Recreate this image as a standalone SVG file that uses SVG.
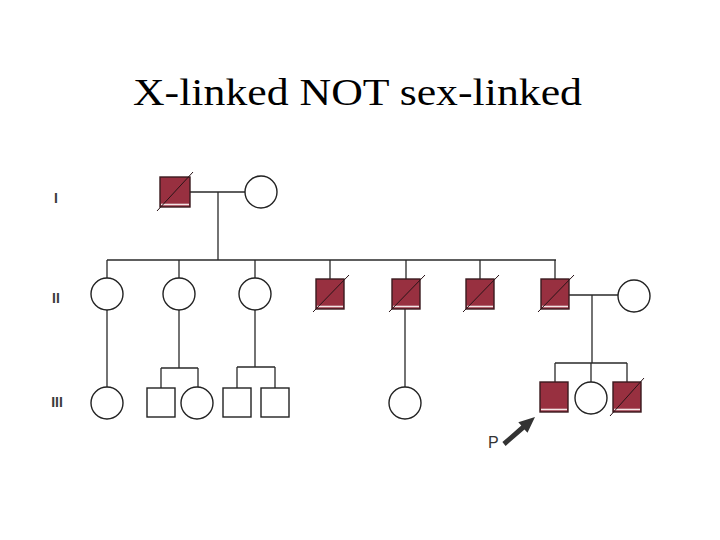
<svg xmlns="http://www.w3.org/2000/svg" width="720" height="540" viewBox="0 0 720 540">
<style>
.title{font-family:"Liberation Serif","Times New Roman",serif;font-size:37px;fill:#000}
.gen{font-family:"Liberation Sans",Arial,sans-serif;font-size:14px;font-weight:bold;fill:#3a3a3a;text-anchor:middle}
.lbl{font-family:"Liberation Sans",Arial,sans-serif;font-size:16px;fill:#333}
.ln{stroke:#2a2a2a;stroke-width:1.3;fill:none}
.f{fill:#fff;stroke:#222;stroke-width:1.4}
.m{fill:#fff;stroke:#222;stroke-width:1.4}
.a{fill:#983040;stroke:#3a1a1e;stroke-width:1.4}
.band{stroke:#f3e6e6;stroke-width:1.6}
.sl{stroke:#2a1418;stroke-width:1}
</style>
<rect width="720" height="540" fill="#fff"/>
<text class="title" x="133" y="105" textLength="449" lengthAdjust="spacingAndGlyphs">X-linked NOT sex-linked</text>
<g id="gen-labels">
<text class="gen" x="56" y="203">I</text>
<text class="gen" x="56" y="303">II</text>
<text class="gen" x="57" y="407">III</text>
</g>
<g id="connectors">
<path class="ln" d="M190 192H245 M218 192V260 M107 260H556"/>
<path class="ln" d="M107 260V278 M179 260V278 M255 260V278 M330 260V279 M406 260V279 M480 260V279 M555 260V279"/>
<path class="ln" d="M569 295H618 M592 295V363 M555 363H627 M555 363V382 M591 363V382 M627 363V382"/>
<path class="ln" d="M107 310V387 M405 309V387"/>
<path class="ln" d="M179 310V368 M161 368H198 M161 368V388 M198 368V387"/>
<path class="ln" d="M255 310V367 M237 367H275 M237 367V388 M275 367V388"/>
</g>
<g id="I-1"><rect class="a" x="160" y="177" width="30" height="30"/><line class="band" x1="161" y1="204.5" x2="189" y2="204.5"/><line class="sl" x1="157" y1="211" x2="193" y2="172"/></g>
<g id="I-2"><circle class="f" cx="261" cy="192" r="16"/></g>
<g id="II-1"><circle class="f" cx="107" cy="294" r="16"/></g>
<g id="II-2"><circle class="f" cx="179" cy="294" r="16"/></g>
<g id="II-3"><circle class="f" cx="255" cy="294" r="16"/></g>
<g id="II-4"><rect class="a" x="316" y="279" width="28" height="30"/><line class="band" x1="317" y1="306.5" x2="343" y2="306.5"/><line class="sl" x1="313" y1="312" x2="349" y2="275"/></g>
<g id="II-5"><rect class="a" x="392" y="279" width="28" height="30"/><line class="band" x1="393" y1="306.5" x2="419" y2="306.5"/><line class="sl" x1="389" y1="312" x2="425" y2="275"/></g>
<g id="II-6"><rect class="a" x="466" y="279" width="28" height="30"/><line class="band" x1="467" y1="306.5" x2="493" y2="306.5"/><line class="sl" x1="463" y1="312" x2="499" y2="275"/></g>
<g id="II-7"><rect class="a" x="541" y="279" width="28" height="30"/><line class="band" x1="542" y1="306.5" x2="568" y2="306.5"/><line class="sl" x1="538" y1="312" x2="574" y2="275"/></g>
<g id="II-8"><circle class="f" cx="634" cy="296" r="16"/></g>
<g id="III-1"><circle class="f" cx="107" cy="403" r="16"/></g>
<g id="III-2"><rect class="m" x="147" y="388" width="28" height="29"/></g>
<g id="III-3"><circle class="f" cx="197" cy="403" r="16"/></g>
<g id="III-4"><rect class="m" x="223" y="388" width="28" height="29"/></g>
<g id="III-5"><rect class="m" x="261" y="388" width="28" height="29"/></g>
<g id="III-6"><circle class="f" cx="405" cy="403" r="16"/></g>
<g id="III-7"><rect class="a" x="540" y="382" width="28" height="30"/><line class="band" x1="541" y1="409.5" x2="567" y2="409.5"/></g>
<g id="III-8"><circle class="f" cx="591" cy="398" r="16"/></g>
<g id="III-9"><rect class="a" x="613" y="382" width="28" height="30"/><line class="band" x1="614" y1="409.5" x2="640" y2="409.5"/><line class="sl" x1="610" y1="416" x2="644" y2="378"/></g>
<g id="proband">
<text class="lbl" x="488" y="448">P</text>
<polygon fill="#333" points="502.4,442.1 521.3,425.6 518.3,422.2 535,417 527.5,432.8 524.5,429.4 505.6,445.9"/>
</g>
</svg>
